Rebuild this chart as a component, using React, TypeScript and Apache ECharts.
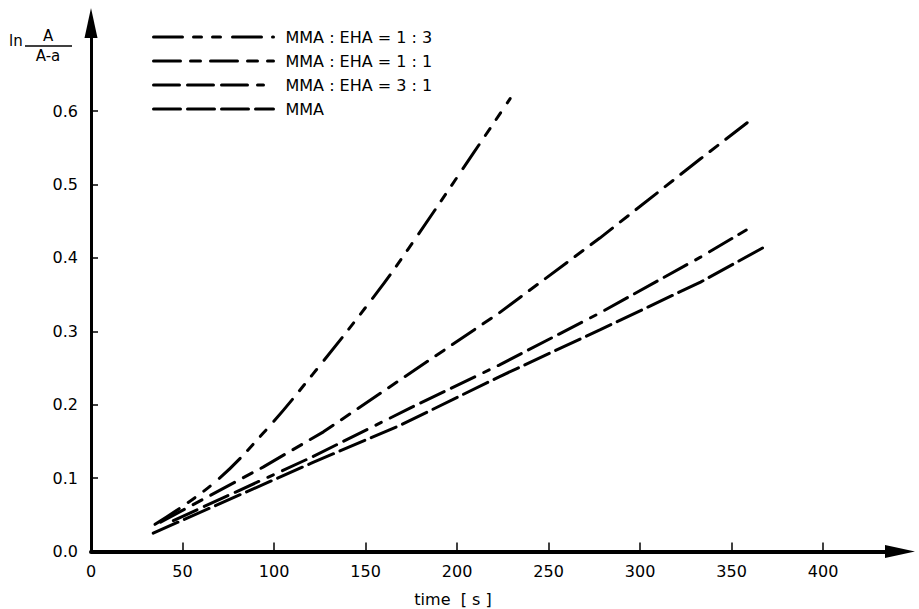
import React, { useEffect, useRef } from "react";
import * as echarts from "echarts";

const seriesNames = ["MMA : EHA = 1 : 3", "MMA : EHA = 1 : 1", "MMA : EHA = 3 : 1", "MMA"];

const ratio13: [number, number][] = [
  [35, 0.037], [67, 0.093], [94, 0.161], [121, 0.241], [156, 0.352],
  [173, 0.411], [209, 0.543], [229, 0.617],
];
const ratio11: [number, number][] = [
  [38, 0.04], [94, 0.115], [127, 0.163], [169, 0.234], [223, 0.325],
  [278, 0.427], [333, 0.535], [360, 0.587],
];
const ratio31: [number, number][] = [
  [45, 0.042], [121, 0.129], [174, 0.195], [223, 0.254], [278, 0.325],
  [333, 0.401], [358, 0.438],
];
const mma: [number, number][] = [
  [34, 0.025], [121, 0.121], [169, 0.172], [223, 0.238], [278, 0.302],
  [333, 0.367], [368, 0.415],
];

const xTicks = [0, 50, 100, 150, 200, 250, 300, 350, 400];
const yTicks = [0, 0.1, 0.2, 0.3, 0.4, 0.5, 0.6];

const dashPatterns = [
  [29, 11, 8, 11, 8, 12],
  [27, 10, 10, 10],
  [26, 8, 26, 8, 26, 10, 6, 10],
  [27, 7],
];
const smoothing = [0.4, 0, 0, 0];

const FONT = "DejaVu Sans";

export default function App() {
  const ref = useRef<HTMLDivElement>(null);
  useEffect(() => {
    if (!ref.current) return;
    const chart = echarts.init(ref.current, undefined, { renderer: "svg" });
    const datasets = [ratio13, ratio11, ratio31, mma];
    chart.setOption({
      animation: false,
      backgroundColor: "#ffffff",
      grid: { left: 91, right: 19, top: 23, bottom: 57.5, containLabel: false, outerBoundsMode: "none" },
      legend: {
        orient: "vertical",
        left: 147,
        top: 24,
        itemWidth: 120,
        itemHeight: 14,
        itemGap: 8,
        data: seriesNames,
        lineStyle: { width: 3 },
        itemStyle: { color: "rgba(0,0,0,0)", borderColor: "rgba(0,0,0,0)", borderWidth: 0, opacity: 0 },
        textStyle: { fontFamily: FONT, fontSize: 16, color: "#000", padding: [0, 0, 0, 7], lineHeight: 14 },
      },
      xAxis: {
        type: "value",
        min: 0,
        max: 442,
        splitLine: { show: false },
        axisLine: {
          show: true,
          lineStyle: { color: "#000", width: 4 },
          symbol: ["none", "triangle"],
          symbolSize: [13, 30],
        },
        axisTick: {
          show: true,
          inside: true,
          length: 9,
          lineStyle: { color: "#000", width: 1.5 },
          customValues: xTicks.slice(1),
        },
        axisLabel: {
          show: true,
          margin: 12,
          color: "#000",
          fontFamily: FONT,
          fontSize: 16,
          customValues: xTicks,
          formatter: (v: number) => String(v),
        },
      },
      yAxis: {
        type: "value",
        min: 0,
        max: 0.72,
        splitLine: { show: false },
        axisLine: {
          show: true,
          lineStyle: { color: "#000", width: 3 },
          symbol: ["none", "triangle"],
          symbolSize: [13, 30],
        },
        axisTick: {
          show: true,
          inside: true,
          length: 7,
          lineStyle: { color: "#000", width: 1.5 },
          customValues: yTicks.slice(1),
        },
        axisLabel: {
          show: true,
          margin: 13,
          color: "#000",
          fontFamily: FONT,
          fontSize: 16,
          customValues: yTicks,
          formatter: (v: number) => v.toFixed(1),
        },
      },
      series: datasets.map((d, i) => ({
        name: seriesNames[i],
        type: "line",
        data: d,
        symbol: "none",
        showSymbol: false,
        smooth: smoothing[i] > 0 ? smoothing[i] : false,
        lineStyle: { color: "#000", width: 3, type: dashPatterns[i], cap: "round" },
        itemStyle: { color: "#000" },
      })),
      graphic: [
        {
          type: "text",
          left: 9,
          top: 33,
          style: { text: "ln", fontFamily: FONT, fontSize: 15, fill: "#000" },
        },
        {
          type: "text",
          x: 48,
          y: 36,
          style: { text: "A", fontFamily: FONT, fontSize: 15, fill: "#000", align: "center", verticalAlign: "middle" },
        },
        {
          type: "line",
          shape: { x1: 25, y1: 46, x2: 72, y2: 46 },
          style: { stroke: "#000", lineWidth: 1.5 },
        },
        {
          type: "text",
          x: 48,
          y: 56,
          style: { text: "A-a", fontFamily: FONT, fontSize: 15, fill: "#000", align: "center", verticalAlign: "middle" },
        },
        {
          type: "text",
          x: 453,
          y: 599,
          style: { text: "time  [ s ]", fontFamily: FONT, fontSize: 16, fill: "#000", align: "center", verticalAlign: "middle" },
        },
      ],
    });
    return () => chart.dispose();
  }, []);
  return (
    <div
      ref={ref}
      style={{ position: "fixed", left: 0, top: 0, width: 919, height: 609, background: "#fff" }}
    />
  );
}
